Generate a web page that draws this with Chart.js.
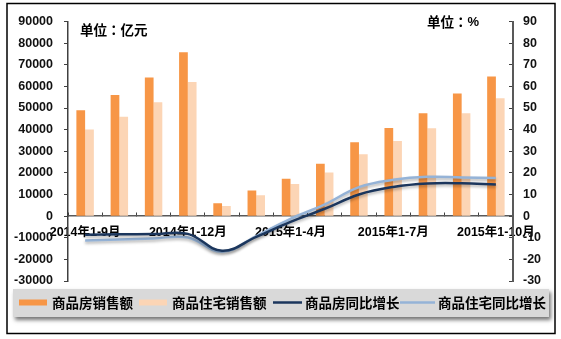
<!DOCTYPE html>
<html><head><meta charset="utf-8">
<script src="https://cdn.jsdelivr.net/npm/chart.js@4"></script>
<style>html,body{margin:0;padding:0;background:#fff;overflow:hidden}canvas{display:block}</style>
</head><body>
<canvas id="c" width="561" height="339"></canvas>
<script>
// ---- data ----
const categories = ['2014年1-9月','2014年1-10月','2014年1-11月','2014年1-12月','2015年1-2月','2015年1-3月','2015年1-4月','2015年1-5月','2015年1-6月','2015年1-7月','2015年1-8月','2015年1-9月','2015年1-10月'];
const shownCategoryLabels = ['2014年1-9月','2014年1-12月','2015年1-4月','2015年1-7月','2015年1-10月'];
const seriesNames = ['商品房销售额','商品住宅销售额','商品房同比增长','商品住宅同比增长'];
const salesAll     = [48950, 56050, 64100, 75800, 5900, 11800, 17300, 24250, 34150, 40750, 47600, 56650, 64550];
const salesHousing = [40100, 45900, 52700, 62000, 4700, 9600, 14850, 20150, 28650, 34700, 40600, 47600, 54550];
const growthAll     = [-8.6, -8.4, -8.3, -8.2, -16.0, -9.6, -2.7, 3.4, 10.0, 13.5, 15.1, 15.2, 14.6];
const growthHousing = [-11.3, -10.8, -10.3, -9.9, -16.5, -9.2, -1.3, 5.4, 13.4, 16.8, 18.2, 17.9, 17.6];
const leftAxisRange  = [-30000, 90000, 10000];
const rightAxisRange = [-30, 90, 10];
const unitLeft = '单位：亿元';
const unitRightPrefix = '单位：';
const unitRightSymbol = '%';

// ---- styles ----
const C_ORANGE = '#F79646', C_PEACH = '#FCD5B5', C_NAVY = '#1B365D', C_SKY = '#95B3D7';
const FONT_NUM = '"Liberation Sans", Arial, "Noto Sans CJK SC", sans-serif';
const FONT_CJK = '"Noto Sans CJK SC", "Liberation Sans", sans-serif';
const FONT_UNIT = '"Noto Sans CJK JP", "Noto Sans CJK SC", sans-serif';

const decorPlugin = {
  id: 'decor',
  beforeDatasetDraw(chart, args) {
    const ds = chart.data.datasets[args.index];
    if (ds.type === 'line') {
      const ctx = chart.ctx;
      ctx.save();
      ctx.shadowColor = 'rgba(0,0,0,0.30)';
      ctx.shadowBlur = 3;
      ctx.shadowOffsetY = 2;
    }
  },
  afterDatasetDraw(chart, args) {
    const ds = chart.data.datasets[args.index];
    if (ds.type === 'line') chart.ctx.restore();
  },
  afterDraw(chart) {
    const ctx = chart.ctx;
    ctx.save();
    // outer frame
    ctx.strokeStyle = '#000';
    ctx.lineWidth = 1.5;
    ctx.strokeRect(7, 3.5, 548, 330);
    // unit texts
    ctx.fillStyle = '#000';
    ctx.textBaseline = 'middle';
    ctx.textAlign = 'left';
    ctx.font = 'bold 13.5px ' + FONT_UNIT;
    ctx.fillText(unitLeft, 80, 30);
    ctx.fillText(unitRightPrefix, 427, 22);
    const w = ctx.measureText(unitRightPrefix).width;
    ctx.font = 'bold 13px ' + FONT_NUM;
    ctx.fillText(unitRightSymbol, 427 + w, 22);
    // legend box
    ctx.save();
    ctx.shadowColor = 'rgba(0,0,0,0.55)';
    ctx.shadowBlur = 4;
    ctx.shadowOffsetX = 2;
    ctx.shadowOffsetY = 3;
    ctx.fillStyle = '#D9D9D9';
    ctx.fillRect(13, 289, 536, 28);
    ctx.restore();
    const pos = [[19, 47, 52], [139, 167, 172], [273, 302, 305], [400, 435, 438]];
    const cy = 302.5;
    seriesNames.forEach((name, i) => {
      const ds = chart.data.datasets.find(d => d.label === name);
      const [x0, x1, tx] = pos[i];
      if (ds.type === 'line') {
        ctx.strokeStyle = ds.borderColor;
        ctx.lineWidth = 2.5;
        ctx.beginPath(); ctx.moveTo(x0, cy); ctx.lineTo(x1, cy); ctx.stroke();
      } else {
        ctx.fillStyle = ds.backgroundColor;
        ctx.fillRect(x0, cy - 3, x1 - x0, 6);
      }
      ctx.fillStyle = '#000';
      ctx.font = 'bold 13.5px ' + FONT_CJK;
      ctx.fillText(ds.label, tx, cy + 0.5);
    });
    ctx.restore();
  }
};

new Chart(document.getElementById('c'), {
  data: {
    labels: categories,
    datasets: [
      { type: 'line', label: seriesNames[2], data: growthAll, yAxisID: 'y1', borderColor: C_NAVY, backgroundColor: C_NAVY, borderWidth: 2.5, pointRadius: 0, tension: 0.4, order: 0 },
      { type: 'line', label: seriesNames[3], data: growthHousing, yAxisID: 'y1', borderColor: C_SKY, backgroundColor: C_SKY, borderWidth: 2.5, pointRadius: 0, tension: 0.4, order: 1 },
      { type: 'bar', label: seriesNames[0], data: salesAll, yAxisID: 'y', backgroundColor: C_ORANGE, categoryPercentage: 0.51, barPercentage: 1.0, order: 2 },
      { type: 'bar', label: seriesNames[1], data: salesHousing, yAxisID: 'y', backgroundColor: C_PEACH, categoryPercentage: 0.51, barPercentage: 1.0, order: 2 }
    ]
  },
  options: {
    responsive: false,
    animation: false,
    events: [],
    layout: { padding: { left: 8, right: 8, top: 17, bottom: 58 } },
    plugins: { legend: { display: false }, tooltip: { enabled: false } },
    scales: {
      x: {
        position: { y: 0 },
        z: 1,
        offset: true,
        grid: { display: true, offset: true, drawOnChartArea: false, drawTicks: true, tickLength: -4, color: '#404040', lineWidth: 1 },
        border: { display: true, color: '#595959', width: 1.5 },
        ticks: {
          autoSkip: false, maxRotation: 0, minRotation: 0, padding: 12.5,
          color: '#000', font: { family: FONT_NUM, size: 12.5, weight: 'bold' },
          callback: function (v, i) { const l = this.getLabelForValue(v); return shownCategoryLabels.includes(l) ? l : ''; }
        }
      },
      y: {
        position: 'left',
        min: leftAxisRange[0], max: leftAxisRange[1],
        afterFit(s) { s.width = 60; },
        grid: { drawOnChartArea: false, drawTicks: true, tickLength: 4, color: '#404040' },
        border: { display: true, color: '#404040', width: 1.5 },
        ticks: { stepSize: leftAxisRange[2], padding: 11, color: '#111', font: { family: FONT_NUM, size: 12.5, weight: 'bold' }, callback: v => String(v) }
      },
      y1: {
        position: 'right',
        min: rightAxisRange[0], max: rightAxisRange[1],
        afterFit(s) { s.width = 40; },
        grid: { drawOnChartArea: false, drawTicks: true, tickLength: -4, color: '#404040' },
        border: { display: true, color: '#595959', width: 2 },
        ticks: { stepSize: rightAxisRange[2], padding: 14, color: '#111', font: { family: FONT_NUM, size: 12.5, weight: 'bold' }, callback: v => String(v) }
      }
    }
  },
  plugins: [decorPlugin]
});
</script>
</body></html>
